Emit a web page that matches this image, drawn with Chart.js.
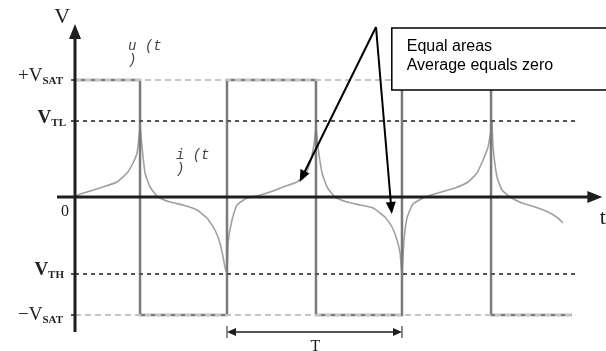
<!DOCTYPE html>
<html>
<head>
<meta charset="utf-8">
<script src="https://cdn.jsdelivr.net/npm/chart.js@4.4.1/dist/chart.umd.min.js"></script>
<style>
  html, body { margin: 0; padding: 0; background: #fff; }
  #wrap { width: 606px; height: 351px; }
</style>
</head>
<body>
<div id="wrap"><canvas id="comparator" width="606" height="351"></canvas></div>
<script>
// comparator output u(t): switching instants and levels
var waveTimes = [0, 7.41, 7.41, 17.32, 17.32, 27.46, 27.46, 37.26, 37.26, 47.41, 47.41, 56.6];
var waveLevels = [11.7, 11.7, -11.8, -11.8, 11.7, 11.7, -11.8, -11.8, 11.7, 11.7, -11.8, -11.8];

// capacitor current i(t)
var currentTimes = [
    0, 0.34, 1.71, 3.19, 4.79, 5.93, 6.61, 7.07, 7.29, 7.41,
    7.64, 7.98, 8.55, 9.46, 10.83, 12.31, 13.90, 15.04, 15.95, 16.52, 16.87, 17.09, 17.32,
    17.44, 17.89, 18.46, 19.60, 20.74, 22.22, 23.70, 25.30, 26.21, 26.78, 27.12, 27.35, 27.46,
    27.69, 28.15, 28.72, 29.63, 30.99, 32.48, 33.96, 35.33, 36.13, 36.70, 37.04, 37.26,
    37.49, 37.83, 38.52, 39.89, 41.37, 43.30, 44.79, 45.81, 46.50, 47.07, 47.41, 47.52,
    47.64, 48.09, 48.66, 49.57, 50.94, 52.42, 53.90, 55.04, 55.61
];
var currentValues = [
    0, 0.2, 0.6, 1.0, 1.5, 2.4, 3.4, 4.4, 6.0, 7.0,
    5.0, 2.4, 1.0, 0, -0.5, -0.8, -1.3, -2.1, -3.3, -4.6, -6.0, -7.0, -7.6,
    -4.6, -2.3, -0.8, -0.1, 0.1, 0.5, 1.0, 1.5, 2.2, 3.4, 4.7, 6.0, 6.9,
    5.0, 2.4, 1.0, 0, -0.5, -0.8, -1.1, -2.0, -3.0, -4.3, -5.6, -7.6,
    -4.3, -2.1, -0.7, 0, 0.4, 0.9, 1.5, 2.4, 3.7, 5.0, 6.7, 7.5,
    5.0, 2.0, 0.7, 0, -0.6, -1.0, -1.5, -2.1, -2.6
];

// reference levels on the V axis
var levelNames = ['+V', 'V', '0', 'V', '\u2212V'];
var levelSubs = ['SAT', 'TL', '', 'TH', 'SAT'];
var levelValues = [11.7, 7.6, 0, -7.7, -11.8];
var levelEnd = 57.0;

var noteLines = ['Equal areas', 'Average equals zero'];

function pts(xs, ys) {
    return xs.map(function (x, i) { return { x: x, y: ys[i] }; });
}

function hline(v, color, dash) {
    return {
        data: [{ x: 0, y: v }, { x: levelEnd, y: v }],
        borderColor: color,
        borderWidth: 2,
        borderDash: dash,
        tension: 0
    };
}

function arrowHead(ctx, x1, y1, x2, y2, len, half) {
    var a = Math.atan2(y2 - y1, x2 - x1);
    ctx.beginPath();
    ctx.moveTo(x2, y2);
    ctx.lineTo(x2 - len * Math.cos(a) + half * Math.sin(a), y2 - len * Math.sin(a) - half * Math.cos(a));
    ctx.lineTo(x2 - len * Math.cos(a) - half * Math.sin(a), y2 - len * Math.sin(a) + half * Math.cos(a));
    ctx.closePath();
    ctx.fill();
}

function arrow(ctx, x1, y1, x2, y2, len, half) {
    var a = Math.atan2(y2 - y1, x2 - x1);
    ctx.beginPath();
    ctx.moveTo(x1, y1);
    ctx.lineTo(x2 - (len - 2) * Math.cos(a), y2 - (len - 2) * Math.sin(a));
    ctx.stroke();
    arrowHead(ctx, x1, y1, x2, y2, len, half);
}

// V with a small bold subscript, right-aligned at xr
function subLabel(ctx, main, sub, xr, yb, bold) {
    var big = (bold ? 'bold ' : '') + '19px "Liberation Serif", serif';
    var small = 'bold 11px "Liberation Serif", serif';
    ctx.font = big;
    var w1 = ctx.measureText(main).width;
    ctx.font = small;
    var w2 = ctx.measureText(sub).width;
    var x0 = xr - w1 - w2;
    ctx.textAlign = 'left';
    ctx.textBaseline = 'alphabetic';
    ctx.font = big;
    ctx.fillText(main, x0, yb);
    ctx.font = small;
    ctx.fillText(sub, x0 + w1, yb + 3);
}

var sketch = {
    id: 'sketch',
    afterDatasetsDraw: function (chart) {
        var ctx = chart.ctx;
        var sx = chart.scales.x, sy = chart.scales.y;
        var X = function (v) { return sx.getPixelForValue(v); };
        var Y = function (v) { return sy.getPixelForValue(v); };
        ctx.save();
        ctx.fillStyle = '#1e1e1e';
        ctx.strokeStyle = '#1e1e1e';

        // axes
        ctx.lineWidth = 3;
        ctx.beginPath();
        ctx.moveTo(X(0), Y(-13.5));
        ctx.lineTo(X(0), Y(16.0));
        ctx.moveTo(X(-2.05), Y(0));
        ctx.lineTo(X(58.5), Y(0));
        ctx.stroke();
        arrowHead(ctx, X(0), Y(0), X(0), Y(17.3), 15, 6);
        arrowHead(ctx, X(0), Y(0), X(60.1), Y(0), 15, 6);

        // small ticks at the levels
        ctx.lineWidth = 1.5;
        levelValues.forEach(function (v) {
            if (v === 0) return;
            ctx.beginPath();
            ctx.moveTo(X(0) - 4, Y(v));
            ctx.lineTo(X(0), Y(v));
            ctx.stroke();
        });

        // axis names
        ctx.fillStyle = '#222';
        ctx.font = '22px "Liberation Serif", serif';
        ctx.textAlign = 'center';
        ctx.textBaseline = 'alphabetic';
        ctx.fillText('V', X(-1.45), Y(17.4));
        ctx.textAlign = 'left';
        ctx.fillText('t', X(59.8), Y(-2.7));

        // level labels
        var offs = [1, 2, 0, 1, 5];
        var rights = [63, 66, 0, 64, 63];
        var bold = [false, true, false, true, false];
        levelValues.forEach(function (v, i) {
            if (levelSubs[i] === '') {
                ctx.font = '16px "Liberation Serif", serif';
                ctx.textAlign = 'center';
                ctx.textBaseline = 'middle';
                ctx.fillText(levelNames[i], X(-1.15), Y(v) + 15);
                return;
            }
            subLabel(ctx, levelNames[i], levelSubs[i], rights[i], Y(v) + offs[i], bold[i]);
        });

        // signal names
        ctx.fillStyle = '#444';
        ctx.font = 'italic 14px "Liberation Mono", monospace';
        ctx.textAlign = 'left';
        ctx.textBaseline = 'alphabetic';
        ctx.fillText('u (t', X(6.05), Y(14.7));
        ctx.fillText(')', X(6.05), Y(13.3));
        ctx.fillText('i (t', X(11.5), Y(3.8));
        ctx.fillText(')', X(11.5), Y(2.4));

        // period marker
        ctx.fillStyle = '#1e1e1e';
        ctx.strokeStyle = '#1e1e1e';
        ctx.lineWidth = 1;
        var ty = Y(-13.5);
        [17.32, 37.26].forEach(function (t) {
            ctx.beginPath();
            ctx.moveTo(X(t), ty - 6);
            ctx.lineTo(X(t), ty + 6);
            ctx.stroke();
        });
        ctx.lineWidth = 1.5;
        ctx.beginPath();
        ctx.moveTo(X(17.32) + 8, ty);
        ctx.lineTo(X(37.26) - 8, ty);
        ctx.stroke();
        arrowHead(ctx, X(37.26), ty, X(17.32), ty, 9, 4);
        arrowHead(ctx, X(17.32), ty, X(37.26), ty, 9, 4);
        ctx.font = '16px "Liberation Serif", serif';
        ctx.textAlign = 'center';
        ctx.textBaseline = 'top';
        ctx.fillText('T', X(27.4), ty + 7);

        // note box with its two arrows
        ctx.fillStyle = '#fff';
        ctx.strokeStyle = '#000';
        ctx.lineWidth = 1.5;
        var bx = X(36.1), by = Y(16.9);
        ctx.fillRect(bx, by, 620 - bx, Y(10.7) - by);
        ctx.strokeRect(bx, by, 620 - bx, Y(10.7) - by);
        ctx.fillStyle = '#000';
        ctx.font = '16px "Liberation Sans", Arial, sans-serif';
        ctx.textAlign = 'left';
        ctx.textBaseline = 'alphabetic';
        ctx.fillText(noteLines[0], X(37.8), Y(14.6));
        ctx.fillText(noteLines[1], X(37.8), Y(12.7));

        ctx.lineWidth = 2;
        arrow(ctx, X(34.3), Y(17.0), X(25.6), Y(1.5), 12, 5);
        arrow(ctx, X(34.3), Y(17.0), X(36.1), Y(-1.7), 12, 5);
        ctx.restore();
    }
};

new Chart(document.getElementById('comparator'), {
    type: 'line',
    data: {
        datasets: [
            hline(levelValues[0], '#c4c4c4', [6, 4]),
            hline(levelValues[1], '#555', [4, 4]),
            hline(levelValues[3], '#555', [4, 4]),
            hline(levelValues[4], '#c4c4c4', [6, 4]),
            {
                label: 'u(t)',
                data: pts(waveTimes, waveLevels),
                borderColor: '#7a7a7a',
                borderWidth: 2.5,
                tension: 0
            },
            {
                label: 'i(t)',
                data: pts(currentTimes, currentValues),
                borderColor: '#a0a0a0',
                borderWidth: 1.6,
                tension: 0.15
            }
        ]
    },
    options: {
        responsive: false,
        animation: false,
        layout: { padding: 0 },
        elements: { point: { radius: 0 } },
        plugins: { legend: { display: false }, tooltip: { enabled: false } },
        scales: {
            x: { type: 'linear', min: -8.547, max: 60.51, display: false },
            y: { type: 'linear', min: -15.4, max: 19.7, display: false }
        }
    },
    plugins: [sketch]
});
</script>
</body>
</html>
